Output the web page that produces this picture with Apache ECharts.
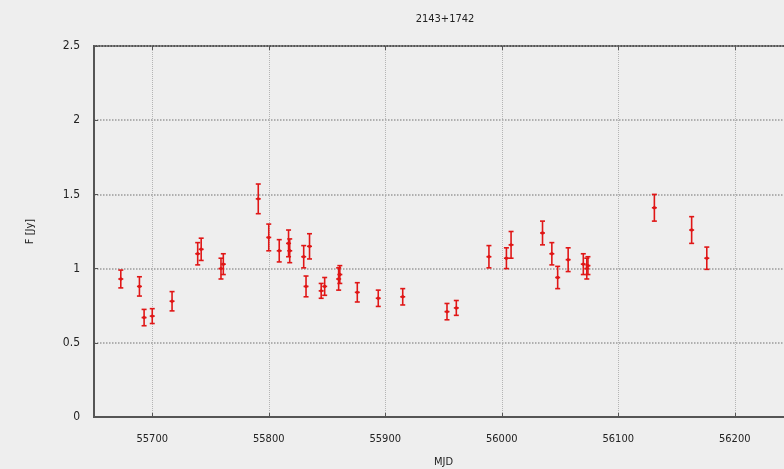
<!DOCTYPE html>
<html>
<head>
<meta charset="utf-8">
<title>2143+1742</title>
<script src="https://cdn.jsdelivr.net/npm/echarts@6/dist/echarts.min.js"></script>
<style>
  html, body { margin: 0; padding: 0; background: #eeeeee; }
  #chart { width: 784px; height: 469px; }
</style>
</head>
<body>
<div id="chart"></div>
<script>
const mjd = [
    55673, 55689, 55693, 55700, 55717, 55739, 55742, 55759, 55761, 55791,
    55800, 55809, 55817, 55818, 55830, 55832, 55835, 55845, 55848, 55860,
    55861, 55876, 55894, 55915, 55953, 55961, 55989, 56004, 56008, 56035,
    56043, 56048, 56057, 56070, 56073, 56074, 56131, 56163, 56176,
];
const flux = [
    0.93, 0.88, 0.67, 0.68, 0.78, 1.10, 1.13, 1.00, 1.03, 1.47,
    1.21, 1.12, 1.17, 1.12, 1.08, 0.88, 1.15, 0.85, 0.88, 0.93,
    0.96, 0.84, 0.80, 0.81, 0.71, 0.735, 1.08, 1.07, 1.16, 1.24,
    1.10, 0.94, 1.06, 1.03, 1.00, 1.02, 1.41, 1.26, 1.07,
];
const fluxErr = [
    0.06, 0.065, 0.055, 0.05, 0.065, 0.075, 0.075, 0.07, 0.07, 0.1,
    0.09, 0.075, 0.09, 0.08, 0.075, 0.07, 0.085, 0.05, 0.06, 0.075,
    0.06, 0.065, 0.055, 0.055, 0.055, 0.05, 0.075, 0.07, 0.09, 0.08,
    0.075, 0.075, 0.08, 0.07, 0.07, 0.06, 0.09, 0.09, 0.075,
];
const xTicks = [55700, 55800, 55900, 56000, 56100, 56200];
const yTicks = [0, 0.5, 1, 1.5, 2, 2.5];

const red = "#e01616";
const axisCol = "#555555";
const font = "DejaVu Sans Condensed, DejaVu Sans, sans-serif";

const points = mjd.map((m, i) => [m, flux[i], flux[i] - fluxErr[i], flux[i] + fluxErr[i]]);

const chart = echarts.init(document.getElementById("chart"));

// vertical error bar with caps, plus a small dot at the measured value
const renderErrorBar = (params, api) => {
    const x = api.value(0);
    const mid = api.coord([x, api.value(1)]);
    const lo = api.coord([x, api.value(2)]);
    const hi = api.coord([x, api.value(3)]);
    const cap = 2.5;
    const style = { stroke: red, lineWidth: 1.6 };
    return {
        type: "group",
        children: [
            { type: "line", shape: { x1: lo[0], y1: lo[1], x2: hi[0], y2: hi[1] }, style },
            { type: "line", shape: { x1: lo[0] - cap, y1: lo[1], x2: lo[0] + cap, y2: lo[1] }, style },
            { type: "line", shape: { x1: hi[0] - cap, y1: hi[1], x2: hi[0] + cap, y2: hi[1] }, style },
            { type: "line", shape: { x1: mid[0] - cap, y1: mid[1], x2: mid[0] + cap, y2: mid[1] }, style },
            { type: "circle", shape: { cx: mid[0], cy: mid[1], r: 1.7 }, style: { fill: red } },
        ],
    };
};

const option = {
    backgroundColor: "#eeeeee",
    animation: false,
    title: {
        text: "2143+1742",
        left: 440,
        top: 9,
        textAlign: "center",
        textStyle: { fontFamily: font, fontSize: 11, fontWeight: "normal", color: "#222" },
    },
    grid: {
        left: 94,
        top: 46,
        width: 699,
        height: 371,
        outerBoundsMode: "none",
        show: true,
        borderColor: axisCol,
        borderWidth: 2,
        backgroundColor: "transparent",
    },
    xAxis: [
        {
            type: "value",
            min: 55650,
            max: 56250,
            interval: 50,
            name: "MJD",
            nameLocation: "middle",
            nameGap: 40,
            nameTextStyle: { fontFamily: font, fontSize: 11, color: "#222" },
            axisLine: { lineStyle: { color: axisCol, width: 2 } },
            axisTick: {
                inside: true,
                length: 4,
                customValues: xTicks,
                lineStyle: { color: axisCol },
            },
            axisLabel: {
                margin: 17,
                fontFamily: font,
                fontSize: 11,
                color: "#222",
                customValues: xTicks,
                formatter: (v) => String(v),
            },
            splitLine: { show: true, lineStyle: { type: "dotted", color: "#b4b4b4" } },
        },
        {
            type: "value",
            position: "top",
            min: 55650,
            max: 56250,
            interval: 50,
            axisLine: { show: false },
            axisTick: { inside: true, length: 4, customValues: xTicks, lineStyle: { color: axisCol } },
            axisLabel: { show: false },
            splitLine: { show: false },
        },
    ],
    yAxis: {
        type: "value",
        min: yTicks[0],
        max: yTicks[yTicks.length - 1],
        interval: 0.5,
        name: "F [Jy]",
        nameLocation: "middle",
        nameGap: 58,
        nameTextStyle: { fontFamily: font, fontSize: 11, color: "#222" },
        axisLine: { show: true, lineStyle: { color: axisCol, width: 2 } },
        axisTick: { show: true, inside: true, length: 4, lineStyle: { color: axisCol } },
        axisLabel: { margin: 14, fontFamily: font, fontSize: 12, color: "#222" },
        splitLine: { show: true, lineStyle: { type: "dotted", color: "#9a9a9a", width: 1.5 } },
    },
    series: [
        {
            type: "custom",
            xAxisIndex: 0,
            renderItem: renderErrorBar,
            encode: { x: 0, y: [1, 2, 3] },
            data: points,
            clip: true,
        },
    ],
};

chart.setOption(option);
</script>
</body>
</html>
